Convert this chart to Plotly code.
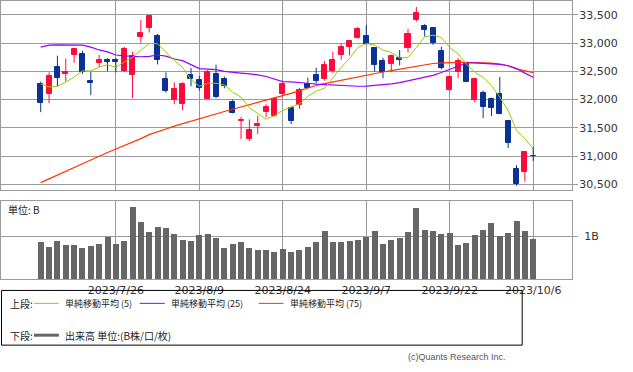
import plotly.graph_objects as go

# ---------------- data ----------------
dates = ["2023/7/12", "2023/7/13", "2023/7/14", "2023/7/18", "2023/7/19", "2023/7/20", "2023/7/21",
         "2023/7/24", "2023/7/25", "2023/7/26", "2023/7/27", "2023/7/28", "2023/7/31", "2023/8/1",
         "2023/8/2", "2023/8/3", "2023/8/4", "2023/8/7", "2023/8/8", "2023/8/9", "2023/8/10",
         "2023/8/14", "2023/8/15", "2023/8/16", "2023/8/17", "2023/8/18", "2023/8/21", "2023/8/22",
         "2023/8/23", "2023/8/24", "2023/8/25", "2023/8/28", "2023/8/29", "2023/8/30", "2023/8/31",
         "2023/9/1", "2023/9/4", "2023/9/5", "2023/9/6", "2023/9/7", "2023/9/8", "2023/9/11",
         "2023/9/12", "2023/9/13", "2023/9/14", "2023/9/15", "2023/9/19", "2023/9/20", "2023/9/21",
         "2023/9/22", "2023/9/25", "2023/9/26", "2023/9/27", "2023/9/28", "2023/9/29", "2023/10/2",
         "2023/10/3", "2023/10/4", "2023/10/5", "2023/10/6"]

open_ = [32284, 32096, 32584, 32448, 32795, 32813, 32337, 32642, 32700, 32707,
         32508, 32430, 33118, 33276, 33130, 32372, 32002, 31919, 32443, 32349,
         32008, 32460, 32372, 31967, 31615, 31303, 31539, 31779, 31715, 32103,
         31844, 31897, 32279, 32438, 32360, 32513, 32783, 32941, 33100, 33130,
         32919, 32684, 32624, 32737, 32919, 33417, 33311, 33271, 32866, 32179,
         32496, 32631, 32002, 32120, 32015, 32108, 31615, 30769, 30716, 31003]
high = [32319, 32483, 32778, 32725, 32905, 32866, 32490, 32790, 32737, 32737,
        32936, 32848, 33412, 33500, 33165, 32483, 32307, 32307, 32561, 32420,
        32526, 32619, 32408, 32002, 31697, 31650, 31720, 31919, 32043, 32307,
        31879, 32208, 32390, 32566, 32684, 32848, 32994, 33040, 33289, 33324,
        32925, 32742, 32800, 32878, 33253, 33641, 33336, 33275, 32936, 32410,
        32737, 32666, 32372, 32161, 32037, 32402, 31620, 30839, 31086, 31162]
low = [31779, 31937, 32231, 32319, 32654, 32455, 32078, 32578, 32501, 32483,
       32490, 32025, 33007, 33188, 32624, 32126, 31919, 31814, 32237, 32161,
       32008, 32025, 32201, 31755, 31303, 31267, 31391, 31690, 31703, 32067,
       31567, 31838, 32208, 32290, 32337, 32478, 32707, 32783, 33082, 32977,
       32496, 32378, 32496, 32607, 32836, 33382, 33118, 32971, 32536, 32149,
       32378, 32310, 31955, 31673, 31708, 31740, 31144, 30475, 30545, 30915]
close = [31937, 32425, 32385, 32496, 32901, 32490, 32290, 32707, 32670, 32660,
         32901, 32765, 33183, 33482, 32695, 32149, 32191, 32272, 32360, 32201,
         32483, 32043, 32244, 31761, 31638, 31456, 31562, 31861, 32020, 32284,
         31620, 32173, 32214, 32332, 32619, 32702, 32931, 33037, 33248, 32989,
         32607, 32483, 32772, 32695, 33165, 33530, 33241, 33012, 32554, 32408,
         32684, 32314, 32372, 31867, 31849, 31743, 31232, 30510, 31068, 30995]

ma5 = [32279, 32226, 32237, 32310, 32400, 32510, 32508, 32578, 32619, 32572,
       32666, 32748, 32878, 32994, 32990, 32836, 32690, 32572, 32355, 32237,
       32290, 32290, 32261, 32131, 32043, 31856, 31750, 31656, 31715, 31808,
       31867, 31926, 32060, 32149, 32201, 32395, 32572, 32730, 32924, 32994,
       32966, 32878, 32836, 32737, 32748, 32924, 33112, 33142, 33100, 32924,
       32812, 32631, 32483, 32395, 32249, 32043, 31808, 31456, 31310, 31134]
ma25 = [32931, 32966, 32971, 32971, 32970, 32966, 32930, 32880, 32845, 32790,
        32775, 32765, 32760, 32765, 32790, 32770, 32720, 32690, 32620, 32550,
        32540, 32530, 32500, 32490, 32470, 32455, 32440, 32410, 32370, 32320,
        32315, 32307, 32290, 32275, 32265, 32255, 32250, 32240, 32237, 32240,
        32250, 32265, 32279, 32300, 32330, 32365, 32400, 32430, 32480, 32540,
        32600, 32649, 32650, 32642, 32635, 32624, 32600, 32550, 32470, 32396]
ma75 = [30530, 30600, 30665, 30730, 30800, 30865, 30930, 31000, 31065, 31125,
        31185, 31250, 31310, 31380, 31435, 31480, 31530, 31575, 31620, 31660,
        31700, 31745, 31790, 31830, 31870, 31905, 31945, 31985, 32025, 32065,
        32110, 32160, 32210, 32250, 32285, 32315, 32345, 32375, 32410, 32443,
        32465, 32490, 32515, 32540, 32565, 32590, 32615, 32640, 32650, 32658,
        32660, 32660, 32658, 32654, 32645, 32631, 32600, 32545, 32510, 32478]

volume = [0.884, 0.767, 0.907, 0.814, 0.814, 0.744, 0.791, 0.837, 1.000, 0.837,
          0.907, 1.698, 1.349, 1.116, 1.233, 1.209, 1.070, 0.930, 0.907, 1.047,
          1.070, 0.961, 0.744, 0.837, 0.884, 0.744, 0.698, 0.698, 0.651, 0.721,
          0.651, 0.698, 0.767, 0.884, 1.140, 0.884, 0.884, 0.907, 0.930, 1.000,
          1.140, 0.837, 0.930, 0.977, 1.116, 1.674, 1.163, 1.140, 1.070, 1.093,
          0.814, 0.860, 1.047, 1.163, 1.326, 1.023, 1.093, 1.372, 1.140, 0.953]

price_ticks = [30500, 31000, 31500, 32000, 32500, 33000, 33500]
date_tick_idx = [9, 19, 29, 39, 49, 59]

# ---------------- styling ----------------
W, H = 633, 372
UP, DOWN = "#ff0a3c", "#0a3296"
GRID = "#9a9a9a"
TICKFONT = dict(family="DejaVu Sans", size=11, color="#333333")
JPFONT = "Noto Sans CJK JP"

def px(x):
    return x / W

def py(y):
    return 1 - y / H

xidx = list(range(len(dates)))
up = [c >= o for o, c in zip(open_, close)]

fig = go.Figure()

# wicks
for flag, col in ((True, UP), (False, DOWN)):
    wx, wy = [], []
    for i in xidx:
        if up[i] == flag:
            wx += [i, i, None]
            wy += [low[i], high[i], None]
    fig.add_trace(go.Scatter(x=wx, y=wy, mode="lines", line=dict(color=col, width=1),
                             hoverinfo="skip", showlegend=False, xaxis="x", yaxis="y"))

# bodies
body_base = [min(o, c) for o, c in zip(open_, close)]
body_h = [abs(c - o) for o, c in zip(open_, close)]
body_col = [UP if u else DOWN for u in up]
fig.add_trace(go.Bar(x=xidx, y=body_h, base=body_base, width=0.6,
                     marker=dict(color=body_col, line=dict(color=body_col, width=1)),
                     showlegend=False, xaxis="x", yaxis="y"))

# moving averages
fig.add_trace(go.Scatter(x=xidx, y=ma75, mode="lines", line=dict(color="#ff3300", width=1.2),
                         showlegend=False, xaxis="x", yaxis="y"))
fig.add_trace(go.Scatter(x=xidx, y=ma25, mode="lines", line=dict(color="#9900ff", width=1.2),
                         showlegend=False, xaxis="x", yaxis="y"))
fig.add_trace(go.Scatter(x=xidx, y=ma5, mode="lines", line=dict(color="#99cc00", width=1),
                         showlegend=False, xaxis="x", yaxis="y"))

# volume
fig.add_trace(go.Bar(x=xidx, y=volume, width=0.72, marker=dict(color="#666666", line=dict(width=0)),
                     showlegend=False, xaxis="x2", yaxis="y2"))

xr = [-4.76, 63.66]
xdom = [0, px(572)]

fig.update_layout(
    width=W, height=H,
    margin=dict(l=0, r=0, t=0, b=0),
    paper_bgcolor="white", plot_bgcolor="white",
    barmode="overlay", bargap=0,
    showlegend=False,
    xaxis=dict(domain=xdom, range=xr, tickvals=date_tick_idx, showticklabels=False,
               showgrid=True, gridcolor=GRID, gridwidth=1, zeroline=False,
               showline=True, mirror=True, linecolor=GRID, linewidth=1, ticks="",
               anchor="y"),
    yaxis=dict(domain=[py(190), 1], range=[30400, 33747], side="right",
               tickvals=price_ticks, tickformat=",d", tickfont=TICKFONT,
               showgrid=True, gridcolor=GRID, gridwidth=1, zeroline=False,
               showline=True, mirror=True, linecolor=GRID, linewidth=1,
               ticks="outside", ticklen=5, tickcolor=GRID, ticklabelstandoff=-1,
               anchor="x"),
    xaxis2=dict(domain=xdom, range=xr, tickvals=date_tick_idx,
                ticktext=[dates[i] for i in date_tick_idx], tickfont=TICKFONT,
                showgrid=True, gridcolor=GRID, gridwidth=1, zeroline=False,
                showline=True, mirror=True, linecolor=GRID, linewidth=1, ticks="",
                anchor="y2"),
    yaxis2=dict(domain=[py(280), py(201)], range=[0, 1.827], side="right",
                tickvals=[1], ticktext=["1B"], tickfont=TICKFONT,
                showgrid=True, gridcolor=GRID, gridwidth=1, zeroline=False,
                showline=True, mirror=True, linecolor=GRID, linewidth=1,
                ticks="outside", ticklen=5, tickcolor=GRID, ticklabelstandoff=4,
                anchor="x2"),
)

annotations = []
shapes = []

def label(text, x, y, size=10, family=JPFONT, anchor="left", color="#222"):
    annotations.append(dict(text=text, x=px(x), y=py(y), xref="paper", yref="paper",
                            xanchor=anchor, yanchor="middle", showarrow=False,
                            font=dict(family=family, size=size, color=color)))

label("単位: B", 5, 210)

# legend box
shapes.append(dict(type="rect", xref="paper", yref="paper", x0=px(0.5), x1=px(522), y0=py(346), y1=py(291),
                   line=dict(color="black", width=1), fillcolor="rgba(0,0,0,0)"))

row1, row2 = 304, 336
label("上段:", 7, row1)
leg = [(33, 58, 62, "#99cc00", "単純移動平均 (5)"),
       (139, 164, 168, "#9900ff", "単純移動平均 (25)"),
       (258, 283, 287, "#ff3300", "単純移動平均 (75)")]
for x0, x1, tx, col, text in leg:
    shapes.append(dict(type="line", xref="paper", yref="paper", x0=px(x0), x1=px(x1),
                       y0=py(row1), y1=py(row1), line=dict(color=col, width=1)))
    label(text, tx, row1, size=9)

label("下段:", 7, row2)
shapes.append(dict(type="line", xref="paper", yref="paper", x0=px(33), x1=px(58),
                   y0=py(row2), y1=py(row2), line=dict(color="#666666", width=3)))
label("出来高 単位:(B株/口/枚)", 62, row2)

label("(c)Quants Research Inc.", 508, 358, size=9, family="Liberation Sans",
      anchor="right", color="#555")

fig.update_layout(annotations=annotations, shapes=shapes)

fig.write_html("out.html", config={"displayModeBar": False},
               post_script="document.body.style.margin='0';")
